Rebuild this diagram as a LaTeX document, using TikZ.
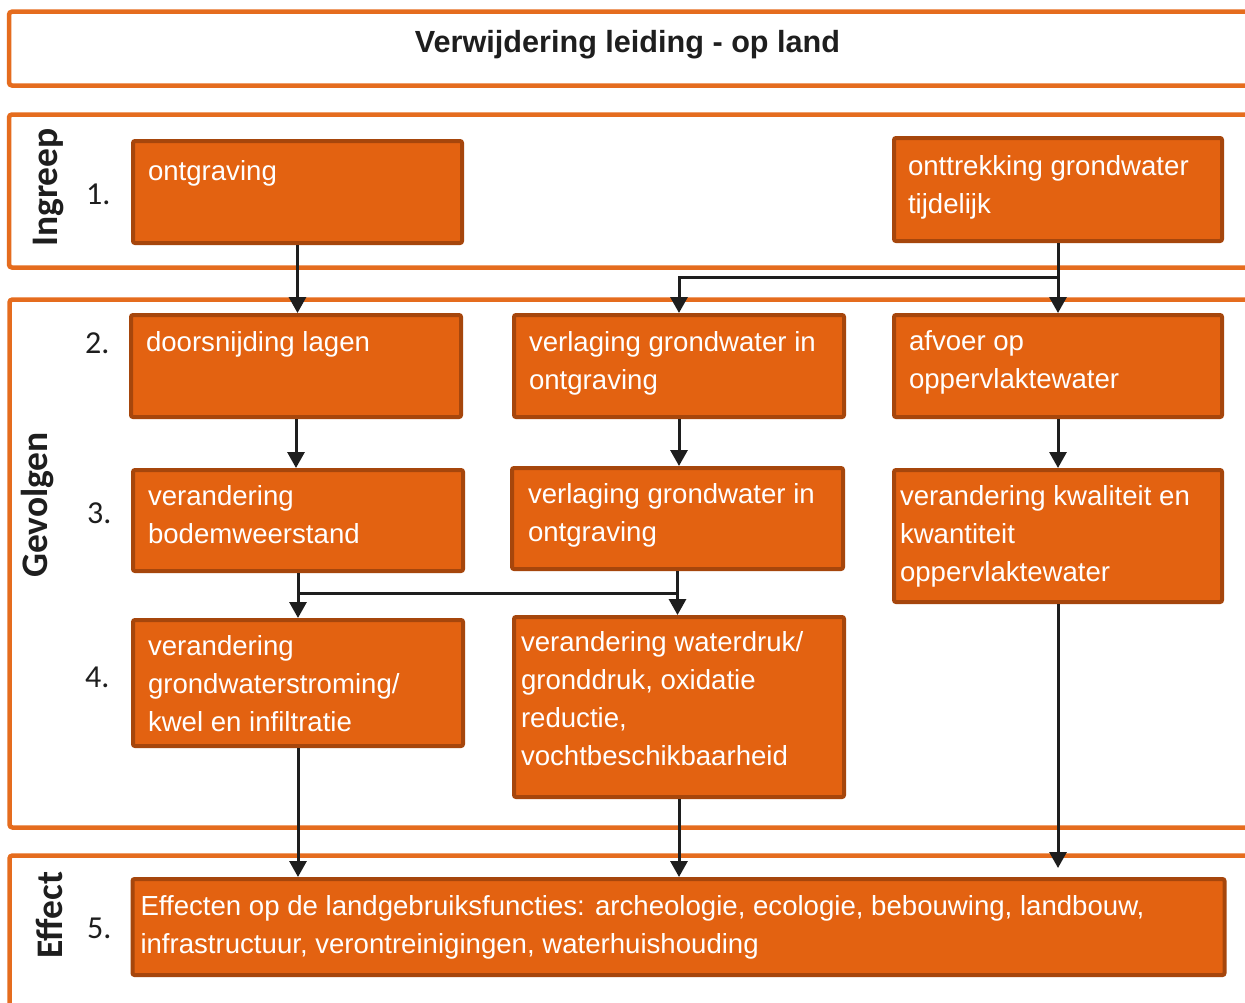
\documentclass[tikz,border=0pt]{standalone}
\usepackage{fontspec}
\setmainfont{Liberation Sans}
\newfontfamily\calf{Carlito}
\usetikzlibrary{arrows.meta,calc}
\definecolor{frameor}{RGB}{229,108,30}
\definecolor{boxfill}{RGB}{227,98,17}
\definecolor{boxline}{RGB}{166,70,12}
\definecolor{arrcol}{RGB}{30,30,30}
\definecolor{txtdark}{RGB}{30,30,30}
% width, height, first-baseline offset, text
\newcommand\bxtext[4]{\parbox[c][#2pt][t]{#1pt}{\raggedright\rule{0pt}{#3pt}#4}}
\begin{document}
\begin{tikzpicture}[x=1pt,y=-1pt,
  frame/.style={draw=frameor, line width=4.5pt, rounded corners=3pt},
  box/.style={draw=boxline, fill=boxfill, line width=4pt, rounded corners=2pt,
    inner ysep=0pt, text=white, font=\fontsize{27.6}{38}\selectfont, anchor=center},
  conn/.style={draw=arrcol, line width=3pt},
  arr/.style={conn, -{Triangle[width=17pt,length=16pt]}},
  side/.style={rotate=90, anchor=base, inner sep=0pt, text=txtdark,
    font=\calf\bfseries\fontsize{37.5}{40}\selectfont},
  num/.style={anchor=base west, inner sep=0pt, text=txtdark,
    font=\calf\fontsize{32}{34}\selectfont}]
\fill[white] (0,0) rectangle (1245,1002);
\useasboundingbox (0,0) rectangle (1245,1002);
% frames (open to the right)
\draw[frame] (1250,11.7) -- (9,11.7) -- (9,85.5) -- (1250,85.5);
\draw[frame] (1250,114.5) -- (9,114.5) -- (9,267.5) -- (1250,267.5);
\draw[frame] (1250,299.5) -- (9.5,299.5) -- (9.5,827.5) -- (1250,827.5);
\draw[frame] (1250,855.5) -- (9.5,855.5) -- (9.5,1010);
% title
\node[anchor=base, inner sep=0pt, text=txtdark, font=\bfseries\fontsize{30.6}{32}\selectfont]
  (title) at (627.5,52) {Verwijdering leiding - op land};
% side labels
\node[side] (lbing) at (57,187.5) {Ingreep};
\node[side] (lbgev) at (47,505) {Gevolgen};
\node[side] (lbeff) at (62,915) {Effect};
% numbers
\node[num] (n1) at (86,204) {1.};
\node[num] (n2) at (85,353) {2.};
\node[num] (n3) at (87,523) {3.};
\node[num] (n4) at (85,687) {4.};
\node[num] (n5) at (87,938) {5.};
% boxes
\node[box, inner xsep=15pt] (b1) at (297.5,192) {\bxtext{299}{102}{39}{ontgraving}};
\node[box, inner xsep=14pt] (b1b) at (1058,189.5) {\bxtext{300}{103}{37}{onttrekking grondwater\\tijdelijk}};
\node[box, inner xsep=15pt] (b2a) at (296,366) {\bxtext{300}{102}{36}{doorsnijding lagen}};
\node[box, inner xsep=15pt] (b2b) at (679,366) {\bxtext{300}{102}{36}{verlaging grondwater in\\ontgraving}};
\node[box, inner xsep=15pt] (b2c) at (1058,366) {\bxtext{298}{102}{35}{afvoer op\\oppervlaktewater}};
\node[box, inner xsep=15pt] (b3a) at (298,520.5) {\bxtext{300}{101}{35}{verandering\\bodemweerstand}};
\node[box, inner xsep=16pt] (b3b) at (677.5,518.5) {\bxtext{299}{101}{35}{verlaging grondwater in\\ontgraving}};
\node[box, inner xsep=6pt] (b3c) at (1058,536) {\bxtext{316}{132}{35}{verandering kwaliteit en\\kwantiteit\\oppervlaktewater}};
\node[box, inner xsep=15pt] (b4a) at (298,683) {\bxtext{300}{126}{35}{verandering\\grondwaterstroming/\\kwel en infiltratie}};
\node[box, inner xsep=7pt] (b4b) at (679,707) {\bxtext{316}{180}{34}{verandering waterdruk/\\gronddruk, oxidatie\\reductie,\\vochtbeschikbaarheid}};
\node[box, inner xsep=8pt] (b5) at (678.5,927) {\bxtext{1076}{96}{36}{Effecten op de landgebruiksfuncties: archeologie, ecologie, bebouwing, landbouw,\\infrastructuur, verontreinigingen, waterhuishouding}};
% helper levels
\coordinate (h1) at (0,277);
\coordinate (h2) at (0,593);
\coordinate (h3) at (0,868);
% connectors
\draw[arr] (b1.south) -- (b1.south |- b2a.north);
\draw[arr] (b1b.south) -- (b1b.south |- b2c.north);
\draw[arr] (b1b.south |- h1) -- (b2b.north |- h1) -- (b2b.north);
\draw[arr] (b2a.south) -- (b2a.south |- b3a.north);
\draw[arr] (b2b.south) -- (b2b.south |- b3b.north);
\draw[arr] (b2c.south) -- (b2c.south |- b3c.north);
\draw[arr] (b3a.south) -- (b3a.south |- b4a.north);
\draw[arr] (b3b.south) -- (b3b.south |- b4b.north);
\draw[conn] (b3a.south |- h2) -- (b3b.south |- h2);
\draw[arr] (b4a.south) -- (b4a.south |- b5.north);
\draw[arr] (b4b.south) -- (b4b.south |- b5.north);
\draw[arr] (b3c.south) -- (b3c.south |- h3);
\end{tikzpicture}
\end{document}
